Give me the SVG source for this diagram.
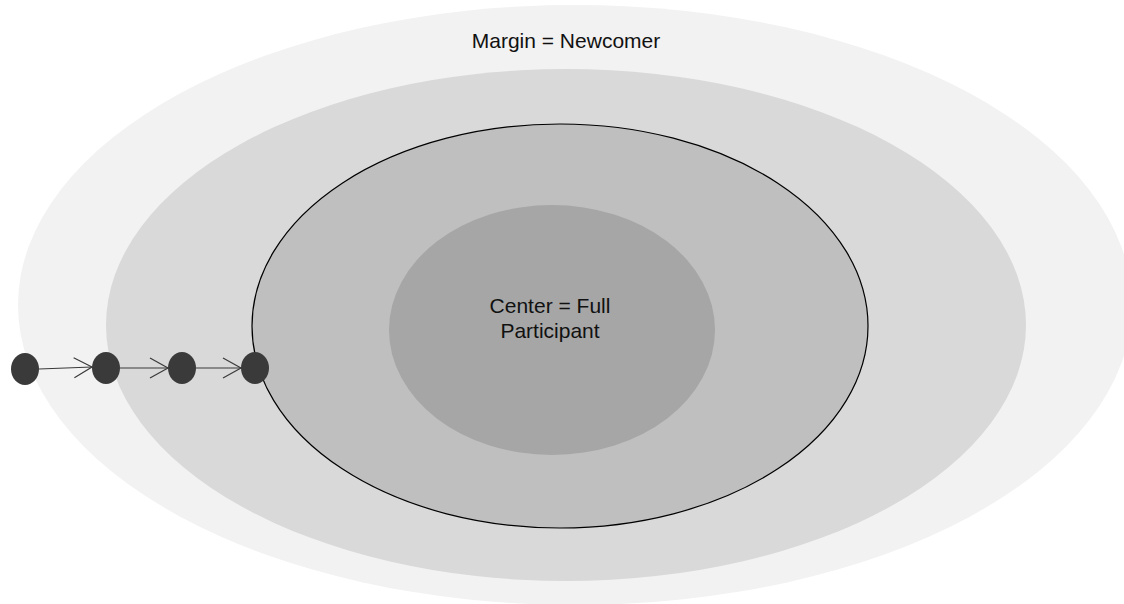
<svg xmlns="http://www.w3.org/2000/svg" width="1124" height="604" viewBox="0 0 1124 604">
<style>
text{font-family:"Liberation Sans",Arial,sans-serif;font-size:21px;fill:#111;text-anchor:middle}
.dot{fill:#3a3a3a}
.conn{stroke:#3a3a3a;stroke-width:1.2;fill:none}
</style>
<defs>
<marker id="arr" markerWidth="24" markerHeight="22" refX="20" refY="11" orient="auto" markerUnits="userSpaceOnUse">
<path d="M2,1 L20,11 L2,21" fill="none" stroke="#3a3a3a" stroke-width="1.2"/>
</marker>
</defs>
<rect width="1124" height="604" fill="#ffffff"/>
<g id="margin">
<ellipse cx="575" cy="305" rx="557" ry="300" fill="#f2f2f2"/>
<text x="566" y="48">Margin = Newcomer</text>
</g>
<g id="ring2"><ellipse cx="566" cy="325" rx="460" ry="256" fill="#d9d9d9"/></g>
<g id="ring3"><ellipse cx="560" cy="326" rx="308" ry="202" fill="#bfbfbf" stroke="#000" stroke-width="1.2"/></g>
<g id="center">
<ellipse cx="552" cy="330" rx="163" ry="125" fill="#a6a6a6"/>
<text x="550" y="313">Center = Full</text>
<text x="550" y="338">Participant</text>
</g>
<g id="n1"><ellipse class="dot" cx="25" cy="369" rx="14" ry="16"/></g>
<g id="n2"><ellipse class="dot" cx="106" cy="368" rx="14" ry="16"/></g>
<g id="n3"><ellipse class="dot" cx="182" cy="368" rx="14" ry="16"/></g>
<g id="n4"><ellipse class="dot" cx="255" cy="368" rx="14" ry="16"/></g>
<g id="connectors">
<line class="conn" x1="39" y1="369" x2="92" y2="367" marker-end="url(#arr)"/>
<line class="conn" x1="120" y1="368" x2="168" y2="368" marker-end="url(#arr)"/>
<line class="conn" x1="196" y1="368" x2="241" y2="368" marker-end="url(#arr)"/>
</g>
</svg>
